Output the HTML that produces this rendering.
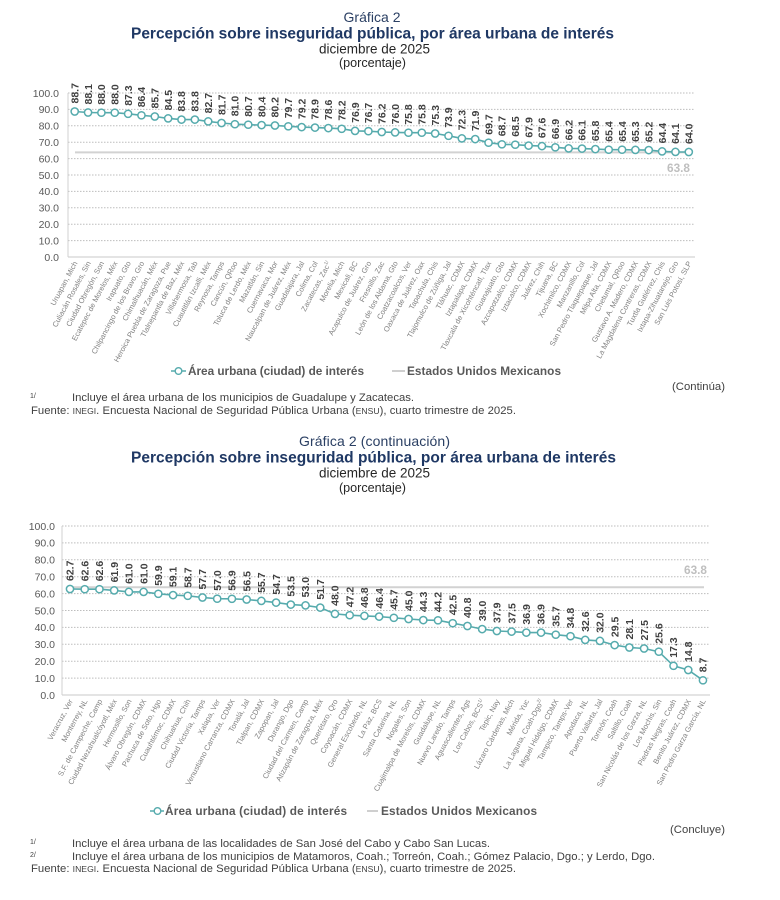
<!DOCTYPE html>
<html>
<head>
<meta charset="utf-8">
<style>
html,body{margin:0;padding:0;background:#fff;}
svg{display:block;}
text{font-family:"Liberation Sans",Arial,sans-serif;}
.yl{font-size:10.5px;fill:#595959;text-anchor:end;}
.dl{font-size:10.5px;font-weight:bold;fill:#404040;}
.xl{font-size:7.5px;fill:#808080;text-anchor:end;}
.grid{stroke:#bdbdbd;stroke-width:1;stroke-dasharray:1.5,1.5;}
.ser{fill:none;stroke:#56abad;stroke-width:1.6;}
.nat{stroke:#d2d2d2;stroke-width:2;}
.fn{font-size:11.3px;fill:#404040;}
.lg{font-size:11.8px;font-weight:bold;fill:#595959;}
.tt{font-size:15.5px;font-weight:bold;fill:#1f3864;}
.gr{font-size:14px;fill:#2a3f63;}
.sub{font-size:13.5px;fill:#262626;}
.pc{font-size:12.6px;fill:#262626;}
</style>
</head>
<body>
<svg width="780" height="900" viewBox="0 0 780 900" xmlns="http://www.w3.org/2000/svg">
<defs>
<marker id="m" markerWidth="10" markerHeight="10" refX="5" refY="5" markerUnits="userSpaceOnUse">
<circle cx="5" cy="5" r="3.6" fill="#fff" stroke="#56abad" stroke-width="1.5"/>
</marker>
</defs>

<!-- ============ TOP HEADER ============ -->
<text class="gr" x="372" y="22" text-anchor="middle" textLength="57">Gráfica 2</text>
<text class="tt" x="131" y="38.5" textLength="483">Percepción sobre inseguridad pública, por área urbana de interés</text>
<text class="sub" x="374.5" y="53.5" text-anchor="middle" textLength="111">diciembre de 2025</text>
<text class="pc" x="372.5" y="67" text-anchor="middle" textLength="67">(porcentaje)</text>

<!-- ============ TOP CHART ============ -->
<g>
<line class="grid" x1="68" y1="93" x2="695" y2="93"/>
<line class="grid" x1="68" y1="109.4" x2="695" y2="109.4"/>
<line class="grid" x1="68" y1="125.8" x2="695" y2="125.8"/>
<line class="grid" x1="68" y1="142.2" x2="695" y2="142.2"/>
<line class="grid" x1="68" y1="158.6" x2="695" y2="158.6"/>
<line class="grid" x1="68" y1="175" x2="695" y2="175"/>
<line class="grid" x1="68" y1="191.4" x2="695" y2="191.4"/>
<line class="grid" x1="68" y1="207.8" x2="695" y2="207.8"/>
<line class="grid" x1="68" y1="224.2" x2="695" y2="224.2"/>
<line class="grid" x1="68" y1="240.6" x2="695" y2="240.6"/>
<line x1="68" y1="257" x2="695" y2="257" stroke="#c8c8c8" stroke-width="1"/>
<line x1="68" y1="93" x2="68" y2="257" stroke="#d0d0d0" stroke-width="1"/>
</g>
<g>
<text class="yl" x="59" y="96.8">100.0</text>
<text class="yl" x="59" y="113.2">90.0</text>
<text class="yl" x="59" y="129.6">80.0</text>
<text class="yl" x="59" y="146">70.0</text>
<text class="yl" x="59" y="162.4">60.0</text>
<text class="yl" x="59" y="178.8">50.0</text>
<text class="yl" x="59" y="195.2">40.0</text>
<text class="yl" x="59" y="211.6">30.0</text>
<text class="yl" x="59" y="228">20.0</text>
<text class="yl" x="59" y="244.4">10.0</text>
<text class="yl" x="59" y="260.8">0.0</text>
</g>
<line class="nat" x1="75" y1="152.4" x2="692" y2="152.4"/>
<text x="690" y="172" text-anchor="end" font-size="11.8" font-weight="bold" fill="#bfbfbf">63.8</text>
<polyline class="ser" marker-start="url(#m)" marker-mid="url(#m)" marker-end="url(#m)" points="74.7,111.5 88.05,112.5 101.4,112.7 114.75,112.7 128.1,113.8 141.45,115.3 154.8,116.5 168.15,118.4 181.5,119.6 194.85,119.6 208.2,121.4 221.55,123.0 234.9,124.2 248.25,124.7 261.6,125.1 274.95,125.5 288.3,126.3 301.65,127.1 315.0,127.6 328.35,128.1 341.7,128.8 355.05,130.9 368.4,131.2 381.75,132.0 395.1,132.4 408.45,132.7 421.8,132.7 435.15,133.5 448.5,135.8 461.85,138.4 475.2,139.1 488.55,142.7 501.9,144.3 515.25,144.7 528.6,145.6 541.95,146.1 555.3,147.3 568.65,148.4 582.0,148.6 595.35,149.1 608.7,149.7 622.05,149.7 635.4,149.9 648.75,150.1 662.1,151.4 675.45,151.9 688.8,152.0"/>
<g class="dl">
<text transform="translate(78.4,103.5) rotate(-90)">88.7</text>
<text transform="translate(91.75,104.5) rotate(-90)">88.1</text>
<text transform="translate(105.1,104.7) rotate(-90)">88.0</text>
<text transform="translate(118.45,104.7) rotate(-90)">88.0</text>
<text transform="translate(131.8,105.8) rotate(-90)">87.3</text>
<text transform="translate(145.15,107.3) rotate(-90)">86.4</text>
<text transform="translate(158.5,108.5) rotate(-90)">85.7</text>
<text transform="translate(171.85,110.4) rotate(-90)">84.5</text>
<text transform="translate(185.2,111.6) rotate(-90)">83.8</text>
<text transform="translate(198.55,111.6) rotate(-90)">83.8</text>
<text transform="translate(211.9,113.4) rotate(-90)">82.7</text>
<text transform="translate(225.25,115.0) rotate(-90)">81.7</text>
<text transform="translate(238.6,116.2) rotate(-90)">81.0</text>
<text transform="translate(251.95,116.7) rotate(-90)">80.7</text>
<text transform="translate(265.3,117.1) rotate(-90)">80.4</text>
<text transform="translate(278.65,117.5) rotate(-90)">80.2</text>
<text transform="translate(292.0,118.3) rotate(-90)">79.7</text>
<text transform="translate(305.35,119.1) rotate(-90)">79.2</text>
<text transform="translate(318.7,119.6) rotate(-90)">78.9</text>
<text transform="translate(332.05,120.1) rotate(-90)">78.6</text>
<text transform="translate(345.4,120.8) rotate(-90)">78.2</text>
<text transform="translate(358.75,122.9) rotate(-90)">76.9</text>
<text transform="translate(372.1,123.2) rotate(-90)">76.7</text>
<text transform="translate(385.45,124.0) rotate(-90)">76.2</text>
<text transform="translate(398.8,124.4) rotate(-90)">76.0</text>
<text transform="translate(412.15,124.7) rotate(-90)">75.8</text>
<text transform="translate(425.5,124.7) rotate(-90)">75.8</text>
<text transform="translate(438.85,125.5) rotate(-90)">75.3</text>
<text transform="translate(452.2,127.8) rotate(-90)">73.9</text>
<text transform="translate(465.55,130.4) rotate(-90)">72.3</text>
<text transform="translate(478.9,131.1) rotate(-90)">71.9</text>
<text transform="translate(492.25,134.7) rotate(-90)">69.7</text>
<text transform="translate(505.6,136.3) rotate(-90)">68.7</text>
<text transform="translate(518.95,136.7) rotate(-90)">68.5</text>
<text transform="translate(532.3,137.6) rotate(-90)">67.9</text>
<text transform="translate(545.65,138.1) rotate(-90)">67.6</text>
<text transform="translate(559.0,139.3) rotate(-90)">66.9</text>
<text transform="translate(572.35,140.4) rotate(-90)">66.2</text>
<text transform="translate(585.7,140.6) rotate(-90)">66.1</text>
<text transform="translate(599.05,141.1) rotate(-90)">65.8</text>
<text transform="translate(612.4,141.7) rotate(-90)">65.4</text>
<text transform="translate(625.75,141.7) rotate(-90)">65.4</text>
<text transform="translate(639.1,141.9) rotate(-90)">65.3</text>
<text transform="translate(652.45,142.1) rotate(-90)">65.2</text>
<text transform="translate(665.8,143.4) rotate(-90)">64.4</text>
<text transform="translate(679.15,143.9) rotate(-90)">64.1</text>
<text transform="translate(692.5,144.0) rotate(-90)">64.0</text>
</g>
<g class="xl">
<text transform="translate(77.7,263) rotate(-62)">Uruapan, Mich</text>
<text transform="translate(91.05,263) rotate(-62)">Culiacán Rosales, Sin</text>
<text transform="translate(104.4,263) rotate(-62)">Ciudad Obregón, Son</text>
<text transform="translate(117.75,263) rotate(-62)">Ecatepec de Morelos, Méx</text>
<text transform="translate(131.1,263) rotate(-62)">Irapuato, Gto</text>
<text transform="translate(144.45,263) rotate(-62)">Chilpancingo de los Bravo, Gro</text>
<text transform="translate(157.8,263) rotate(-62)">Chimalhuacán, Méx</text>
<text transform="translate(171.15,263) rotate(-62)">Heroica Puebla de Zaragoza, Pue</text>
<text transform="translate(184.5,263) rotate(-62)">Tlalnepantla de Baz, Méx</text>
<text transform="translate(197.85,263) rotate(-62)">Villahermosa, Tab</text>
<text transform="translate(211.2,263) rotate(-62)">Cuautitlán Izcalli, Méx</text>
<text transform="translate(224.55,263) rotate(-62)">Reynosa, Tamps</text>
<text transform="translate(237.9,263) rotate(-62)">Cancún, QRoo</text>
<text transform="translate(251.25,263) rotate(-62)">Toluca de Lerdo, Méx</text>
<text transform="translate(264.6,263) rotate(-62)">Mazatlán, Sin</text>
<text transform="translate(277.95,263) rotate(-62)">Cuernavaca, Mor</text>
<text transform="translate(291.3,263) rotate(-62)">Naucalpan de Juárez, Méx</text>
<text transform="translate(304.65,263) rotate(-62)">Guadalajara, Jal</text>
<text transform="translate(318.0,263) rotate(-62)">Colima, Col</text>
<text transform="translate(331.35,263) rotate(-62)">Zacatecas, Zac<tspan font-size="5" dy="-3">1/</tspan></text>
<text transform="translate(344.7,263) rotate(-62)">Morelia, Mich</text>
<text transform="translate(358.05,263) rotate(-62)">Mexicali, BC</text>
<text transform="translate(371.4,263) rotate(-62)">Acapulco de Juárez, Gro</text>
<text transform="translate(384.75,263) rotate(-62)">Fresnillo, Zac</text>
<text transform="translate(398.1,263) rotate(-62)">León de los Aldama, Gto</text>
<text transform="translate(411.45,263) rotate(-62)">Coatzacoalcos, Ver</text>
<text transform="translate(424.8,263) rotate(-62)">Oaxaca de Juárez, Oax</text>
<text transform="translate(438.15,263) rotate(-62)">Tapachula, Chis</text>
<text transform="translate(451.5,263) rotate(-62)">Tlajomulco de Zúñiga, Jal</text>
<text transform="translate(464.85,263) rotate(-62)">Tláhuac, CDMX</text>
<text transform="translate(478.2,263) rotate(-62)">Iztapalapa, CDMX</text>
<text transform="translate(491.55,263) rotate(-62)">Tlaxcala de Xicohténcatl, Tlax</text>
<text transform="translate(504.9,263) rotate(-62)">Guanajuato, Gto</text>
<text transform="translate(518.25,263) rotate(-62)">Azcapotzalco, CDMX</text>
<text transform="translate(531.6,263) rotate(-62)">Iztacalco, CDMX</text>
<text transform="translate(544.95,263) rotate(-62)">Juárez, Chih</text>
<text transform="translate(558.3,263) rotate(-62)">Tijuana, BC</text>
<text transform="translate(571.65,263) rotate(-62)">Xochimilco, CDMX</text>
<text transform="translate(585.0,263) rotate(-62)">Manzanillo, Col</text>
<text transform="translate(598.35,263) rotate(-62)">San Pedro Tlaquepaque, Jal</text>
<text transform="translate(611.7,263) rotate(-62)">Milpa Alta, CDMX</text>
<text transform="translate(625.05,263) rotate(-62)">Chetumal, QRoo</text>
<text transform="translate(638.4,263) rotate(-62)">Gustavo A. Madero, CDMX</text>
<text transform="translate(651.75,263) rotate(-62)">La Magdalena Contreras, CDMX</text>
<text transform="translate(665.1,263) rotate(-62)">Tuxtla Gutiérrez, Chis</text>
<text transform="translate(678.45,263) rotate(-62)">Ixtapa-Zihuatanejo, Gro</text>
<text transform="translate(691.8,263) rotate(-62)">San Luis Potosí, SLP</text>
</g>

<!-- top legend -->
<line x1="171" y1="371" x2="186" y2="371" stroke="#56abad" stroke-width="1.5"/>
<circle cx="178.5" cy="371" r="3.3" fill="#fff" stroke="#56abad" stroke-width="1.4"/>
<text class="lg" x="188" y="375" textLength="176">Área urbana (ciudad) de interés</text>
<line x1="392" y1="371" x2="405" y2="371" stroke="#cfcfcf" stroke-width="2"/>
<text class="lg" x="407" y="375" textLength="154">Estados Unidos Mexicanos</text>

<text class="fn" x="725" y="390" text-anchor="end" textLength="53">(Continúa)</text>
<text x="30" y="398" font-size="7" fill="#404040">1/</text>
<text class="fn" x="72" y="401" textLength="342">Incluye el área urbana de los municipios de Guadalupe y Zacatecas.</text>
<text class="fn" x="31" y="414" textLength="485">Fuente: <tspan font-size="8.6">INEGI</tspan>. Encuesta Nacional de Seguridad Pública Urbana (<tspan font-size="8.6">ENSU</tspan>), cuarto trimestre de 2025.</text>

<!-- ============ BOTTOM HEADER ============ -->
<text class="gr" x="374.5" y="446" text-anchor="middle" textLength="151">Gráfica 2 (continuación)</text>
<text class="tt" x="131" y="462.5" textLength="485">Percepción sobre inseguridad pública, por área urbana de interés</text>
<text class="sub" x="374.5" y="477.5" text-anchor="middle" textLength="111">diciembre de 2025</text>
<text class="pc" x="372.5" y="492" text-anchor="middle" textLength="67">(porcentaje)</text>

<!-- ============ BOTTOM CHART ============ -->
<g>
<line class="grid" x1="62" y1="526" x2="710" y2="526"/>
<line class="grid" x1="62" y1="542.9" x2="710" y2="542.9"/>
<line class="grid" x1="62" y1="559.8" x2="710" y2="559.8"/>
<line class="grid" x1="62" y1="576.7" x2="710" y2="576.7"/>
<line class="grid" x1="62" y1="593.6" x2="710" y2="593.6"/>
<line class="grid" x1="62" y1="610.5" x2="710" y2="610.5"/>
<line class="grid" x1="62" y1="627.4" x2="710" y2="627.4"/>
<line class="grid" x1="62" y1="644.3" x2="710" y2="644.3"/>
<line class="grid" x1="62" y1="661.2" x2="710" y2="661.2"/>
<line class="grid" x1="62" y1="678.1" x2="710" y2="678.1"/>
<line x1="62" y1="695" x2="710" y2="695" stroke="#c8c8c8" stroke-width="1"/>
<line x1="62" y1="526" x2="62" y2="695" stroke="#d0d0d0" stroke-width="1"/>
</g>
<g>
<text class="yl" x="55" y="529.8">100.0</text>
<text class="yl" x="55" y="546.7">90.0</text>
<text class="yl" x="55" y="563.6">80.0</text>
<text class="yl" x="55" y="580.5">70.0</text>
<text class="yl" x="55" y="597.4">60.0</text>
<text class="yl" x="55" y="614.3">50.0</text>
<text class="yl" x="55" y="631.2">40.0</text>
<text class="yl" x="55" y="648.1">30.0</text>
<text class="yl" x="55" y="665">20.0</text>
<text class="yl" x="55" y="681.9">10.0</text>
<text class="yl" x="55" y="698.8">0.0</text>
</g>
<line class="nat" x1="70" y1="587.2" x2="704" y2="587.2"/>
<text x="707" y="574" text-anchor="end" font-size="11.8" font-weight="bold" fill="#bfbfbf">63.8</text>
<polyline class="ser" marker-start="url(#m)" marker-mid="url(#m)" marker-end="url(#m)" points="70.0,589.0 84.72,589.2 99.44,589.2 114.16,590.4 128.88,591.9 143.6,591.9 158.32,593.8 173.04,595.1 187.76,595.8 202.48,597.5 217.2,598.7 231.92,598.8 246.64,599.5 261.36,600.9 276.08,602.6 290.8,604.6 305.52,605.4 320.24,607.6 334.96,613.9 349.68,615.2 364.4,615.9 379.12,616.6 393.84,617.8 408.56,619.0 423.28,620.1 438.0,620.3 452.72,623.2 467.44,626.0 482.16,629.1 496.88,631.0 511.6,631.6 526.32,632.6 541.04,632.6 555.76,634.7 570.48,636.2 585.2,639.9 599.92,640.9 614.64,645.1 629.36,647.5 644.08,648.5 658.8,651.7 673.52,665.8 688.24,670.0 702.96,680.3"/>
<g class="dl">
<text transform="translate(73.7,581.0) rotate(-90)">62.7</text>
<text transform="translate(88.42,581.2) rotate(-90)">62.6</text>
<text transform="translate(103.14,581.2) rotate(-90)">62.6</text>
<text transform="translate(117.86,582.4) rotate(-90)">61.9</text>
<text transform="translate(132.58,583.9) rotate(-90)">61.0</text>
<text transform="translate(147.3,583.9) rotate(-90)">61.0</text>
<text transform="translate(162.02,585.8) rotate(-90)">59.9</text>
<text transform="translate(176.74,587.1) rotate(-90)">59.1</text>
<text transform="translate(191.46,587.8) rotate(-90)">58.7</text>
<text transform="translate(206.18,589.5) rotate(-90)">57.7</text>
<text transform="translate(220.9,590.7) rotate(-90)">57.0</text>
<text transform="translate(235.62,590.8) rotate(-90)">56.9</text>
<text transform="translate(250.34,591.5) rotate(-90)">56.5</text>
<text transform="translate(265.06,592.9) rotate(-90)">55.7</text>
<text transform="translate(279.78,594.6) rotate(-90)">54.7</text>
<text transform="translate(294.5,596.6) rotate(-90)">53.5</text>
<text transform="translate(309.22,597.4) rotate(-90)">53.0</text>
<text transform="translate(323.94,599.6) rotate(-90)">51.7</text>
<text transform="translate(338.66,605.9) rotate(-90)">48.0</text>
<text transform="translate(353.38,607.2) rotate(-90)">47.2</text>
<text transform="translate(368.1,607.9) rotate(-90)">46.8</text>
<text transform="translate(382.82,608.6) rotate(-90)">46.4</text>
<text transform="translate(397.54,609.8) rotate(-90)">45.7</text>
<text transform="translate(412.26,611.0) rotate(-90)">45.0</text>
<text transform="translate(426.98,612.1) rotate(-90)">44.3</text>
<text transform="translate(441.7,612.3) rotate(-90)">44.2</text>
<text transform="translate(456.42,615.2) rotate(-90)">42.5</text>
<text transform="translate(471.14,618.0) rotate(-90)">40.8</text>
<text transform="translate(485.86,621.1) rotate(-90)">39.0</text>
<text transform="translate(500.58,623.0) rotate(-90)">37.9</text>
<text transform="translate(515.3,623.6) rotate(-90)">37.5</text>
<text transform="translate(530.02,624.6) rotate(-90)">36.9</text>
<text transform="translate(544.74,624.6) rotate(-90)">36.9</text>
<text transform="translate(559.46,626.7) rotate(-90)">35.7</text>
<text transform="translate(574.18,628.2) rotate(-90)">34.8</text>
<text transform="translate(588.9,631.9) rotate(-90)">32.6</text>
<text transform="translate(603.62,632.9) rotate(-90)">32.0</text>
<text transform="translate(618.34,637.1) rotate(-90)">29.5</text>
<text transform="translate(633.06,639.5) rotate(-90)">28.1</text>
<text transform="translate(647.78,640.5) rotate(-90)">27.5</text>
<text transform="translate(662.5,643.7) rotate(-90)">25.6</text>
<text transform="translate(677.22,657.8) rotate(-90)">17.3</text>
<text transform="translate(691.94,662.0) rotate(-90)">14.8</text>
<text transform="translate(706.66,672.3) rotate(-90)">8.7</text>
</g>
<g class="xl">
<text transform="translate(73,701) rotate(-62)">Veracruz, Ver</text>
<text transform="translate(87.72,701) rotate(-62)">Monterrey, NL</text>
<text transform="translate(102.44,701) rotate(-62)">S.F. de Campeche, Camp</text>
<text transform="translate(117.16,701) rotate(-62)">Ciudad Nezahualcóyotl, Méx</text>
<text transform="translate(131.88,701) rotate(-62)">Hermosillo, Son</text>
<text transform="translate(146.6,701) rotate(-62)">Álvaro Obregón, CDMX</text>
<text transform="translate(161.32,701) rotate(-62)">Pachuca de Soto, Hgo</text>
<text transform="translate(176.04,701) rotate(-62)">Cuauhtémoc, CDMX</text>
<text transform="translate(190.76,701) rotate(-62)">Chihuahua, Chih</text>
<text transform="translate(205.48,701) rotate(-62)">Ciudad Victoria, Tamps</text>
<text transform="translate(220.2,701) rotate(-62)">Xalapa, Ver</text>
<text transform="translate(234.92,701) rotate(-62)">Venustiano Carranza, CDMX</text>
<text transform="translate(249.64,701) rotate(-62)">Tonalá, Jal</text>
<text transform="translate(264.36,701) rotate(-62)">Tlalpan, CDMX</text>
<text transform="translate(279.08,701) rotate(-62)">Zapopan, Jal</text>
<text transform="translate(293.8,701) rotate(-62)">Durango, Dgo</text>
<text transform="translate(308.52,701) rotate(-62)">Ciudad del Carmen, Camp</text>
<text transform="translate(323.24,701) rotate(-62)">Atizapán de Zaragoza, Méx</text>
<text transform="translate(337.96,701) rotate(-62)">Querétaro, Qro</text>
<text transform="translate(352.68,701) rotate(-62)">Coyoacán, CDMX</text>
<text transform="translate(367.4,701) rotate(-62)">General Escobedo, NL</text>
<text transform="translate(382.12,701) rotate(-62)">La Paz, BCS</text>
<text transform="translate(396.84,701) rotate(-62)">Santa Catarina, NL</text>
<text transform="translate(411.56,701) rotate(-62)">Nogales, Son</text>
<text transform="translate(426.28,701) rotate(-62)">Cuajimalpa de Morelos, CDMX</text>
<text transform="translate(441,701) rotate(-62)">Guadalupe, NL</text>
<text transform="translate(455.72,701) rotate(-62)">Nuevo Laredo, Tamps</text>
<text transform="translate(470.44,701) rotate(-62)">Aguascalientes, Ags</text>
<text transform="translate(485.16,701) rotate(-62)">Los Cabos, BCS<tspan font-size="5" dy="-3">1/</tspan></text>
<text transform="translate(499.88,701) rotate(-62)">Tepic, Nay</text>
<text transform="translate(514.6,701) rotate(-62)">Lázaro Cárdenas, Mich</text>
<text transform="translate(529.32,701) rotate(-62)">Mérida, Yuc</text>
<text transform="translate(544.04,701) rotate(-62)">La Laguna, Coah-Dgo<tspan font-size="5" dy="-3">2/</tspan></text>
<text transform="translate(558.76,701) rotate(-62)">Miguel Hidalgo, CDMX</text>
<text transform="translate(573.48,701) rotate(-62)">Tampico, Tamps-Ver</text>
<text transform="translate(588.2,701) rotate(-62)">Apodaca, NL</text>
<text transform="translate(602.92,701) rotate(-62)">Puerto Vallarta, Jal</text>
<text transform="translate(617.64,701) rotate(-62)">Torreón, Coah</text>
<text transform="translate(632.36,701) rotate(-62)">Saltillo, Coah</text>
<text transform="translate(647.08,701) rotate(-62)">San Nicolás de los Garza, NL</text>
<text transform="translate(661.8,701) rotate(-62)">Los Mochis, Sin</text>
<text transform="translate(676.52,701) rotate(-62)">Piedras Negras, Coah</text>
<text transform="translate(691.24,701) rotate(-62)">Benito Juárez, CDMX</text>
<text transform="translate(705.96,701) rotate(-62)">San Pedro Garza García, NL</text>
</g>

<!-- bottom legend -->
<line x1="150" y1="811" x2="164" y2="811" stroke="#56abad" stroke-width="1.5"/>
<circle cx="157.5" cy="811" r="3.3" fill="#fff" stroke="#56abad" stroke-width="1.4"/>
<text class="lg" x="165" y="815" textLength="182">Área urbana (ciudad) de interés</text>
<line x1="367" y1="811" x2="378" y2="811" stroke="#cfcfcf" stroke-width="2"/>
<text class="lg" x="381" y="815" textLength="156">Estados Unidos Mexicanos</text>

<text class="fn" x="725" y="833" text-anchor="end" textLength="55">(Concluye)</text>
<text x="30" y="844" font-size="7" fill="#404040">1/</text>
<text class="fn" x="72" y="847" textLength="418">Incluye el área urbana de las localidades de San José del Cabo y Cabo San Lucas.</text>
<text x="30" y="857" font-size="7" fill="#404040">2/</text>
<text class="fn" x="72" y="860" textLength="583">Incluye el área urbana de los municipios de Matamoros, Coah.; Torreón, Coah.; Gómez Palacio, Dgo.; y Lerdo, Dgo.</text>
<text class="fn" x="31" y="872" textLength="485">Fuente: <tspan font-size="8.6">INEGI</tspan>. Encuesta Nacional de Seguridad Pública Urbana (<tspan font-size="8.6">ENSU</tspan>), cuarto trimestre de 2025.</text>
</svg>
</body>
</html>
